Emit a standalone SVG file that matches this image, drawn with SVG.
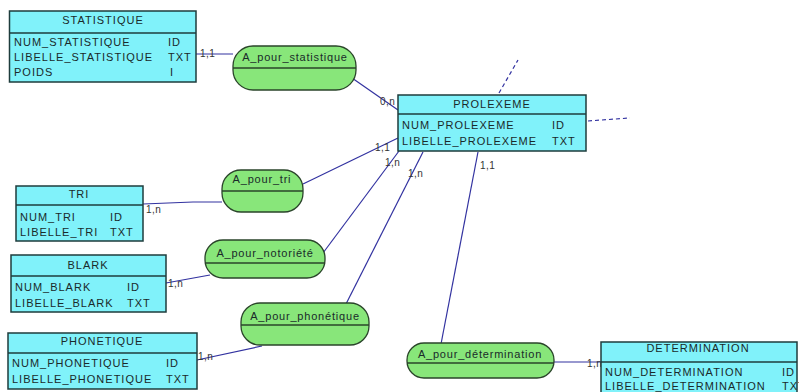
<svg xmlns="http://www.w3.org/2000/svg" width="799" height="392" viewBox="0 0 799 392">
<style>
.ent rect{fill:#80f2fa;stroke:#1e3c3c;stroke-width:1.5}
.ent line{stroke:#1e3c3c;stroke-width:1.5}
.asc rect{fill:#88e67a;stroke:#2a442a;stroke-width:1.3}
.asc line{stroke:#2a442a;stroke-width:1.3}
text{font-family:"Liberation Sans",Arial,sans-serif;font-size:11px;fill:#1a2a2a;letter-spacing:1px}
.t{text-anchor:middle}
.a{letter-spacing:0.8px}
.c{font-size:10px;letter-spacing:0.5px;fill:#333}
#connectors line,#connectors polyline{stroke:#3232a0;stroke-width:1.2;fill:none}
#connectors .d{stroke-dasharray:4,3}
</style>
<g id="connectors">
<line x1="196" y1="54" x2="233" y2="54"/>
<line x1="352" y1="78" x2="398" y2="110"/>
<polyline points="143,204 193,202 222,202"/>
<line x1="303" y1="184" x2="398" y2="138"/>
<line x1="166" y1="283" x2="210" y2="275"/>
<line x1="323" y1="253" x2="399" y2="151"/>
<line x1="197" y1="360" x2="262" y2="346"/>
<line x1="346" y1="304" x2="423" y2="152"/>
<line x1="441" y1="344" x2="478" y2="152"/>
<line x1="554" y1="362" x2="601" y2="362"/>
<line class="d" x1="499" y1="93" x2="518" y2="60"/>
<line class="d" x1="588" y1="121" x2="630" y2="118"/>
<text class="c" x="200" y="57">1,1</text>
<text class="c" x="380" y="105">0,n</text>
<text class="c" x="146" y="213">1,n</text>
<text class="c" x="375" y="151">1,1</text>
<text class="c" x="168" y="287">1,n</text>
<text class="c" x="385" y="166">1,n</text>
<text class="c" x="198" y="360">1,n</text>
<text class="c" x="408" y="177">1,n</text>
<text class="c" x="480" y="169">1,1</text>
<text class="c" x="587" y="367">1,n</text>
</g>
<g id="STATISTIQUE" class="ent">
<rect x="9.5" y="11" width="186.5" height="71"/>
<line x1="9.5" y1="33" x2="196" y2="33"/>
<text class="t" x="103" y="24">STATISTIQUE</text>
<text x="14" y="46">NUM_STATISTIQUE</text><text x="168" y="46">ID</text>
<text x="14" y="61">LIBELLE_STATISTIQUE</text><text x="168" y="61">TXT</text>
<text x="14" y="76">POIDS</text><text x="170" y="76">I</text>
</g>
<g id="A_pour_statistique" class="asc">
<rect x="233" y="46" width="123" height="44" rx="20"/>
<line x1="233" y1="68" x2="356" y2="68"/>
<text class="t a" x="295" y="61">A_pour_statistique</text>
</g>
<g id="PROLEXEME" class="ent">
<rect x="398" y="95" width="188" height="56"/>
<line x1="398" y1="114" x2="586" y2="114"/>
<text class="t" x="492" y="108">PROLEXEME</text>
<text x="402" y="129">NUM_PROLEXEME</text><text x="552" y="129">ID</text>
<text x="402" y="145">LIBELLE_PROLEXEME</text><text x="552" y="145">TXT</text>
</g>
<g id="TRI" class="ent">
<rect x="16" y="186" width="127" height="55"/>
<line x1="16" y1="205" x2="143" y2="205"/>
<text class="t" x="79" y="198">TRI</text>
<text x="20" y="221">NUM_TRI</text><text x="110" y="221">ID</text>
<text x="20" y="236">LIBELLE_TRI</text><text x="110" y="236">TXT</text>
</g>
<g id="A_pour_tri" class="asc">
<rect x="222" y="170" width="81" height="42" rx="19"/>
<line x1="222" y1="191" x2="303" y2="191"/>
<text class="t a" x="262" y="183">A_pour_tri</text>
</g>
<g id="BLARK" class="ent">
<rect x="11" y="255" width="155" height="57"/>
<line x1="11" y1="276" x2="166" y2="276"/>
<text class="t" x="88" y="269">BLARK</text>
<text x="15" y="291">NUM_BLARK</text><text x="127" y="291">ID</text>
<text x="15" y="307">LIBELLE_BLARK</text><text x="127" y="307">TXT</text>
</g>
<g id="A_pour_notoriete" class="asc">
<rect x="205" y="240" width="120" height="38" rx="18"/>
<line x1="205" y1="263" x2="325" y2="263"/>
<text class="t a" x="265" y="257">A_pour_notoriété</text>
</g>
<g id="PHONETIQUE" class="ent">
<rect x="8" y="333" width="189" height="56"/>
<line x1="8" y1="353" x2="197" y2="353"/>
<text class="t" x="102" y="345">PHONETIQUE</text>
<text x="12" y="367">NUM_PHONETIQUE</text><text x="166" y="367">ID</text>
<text x="12" y="383">LIBELLE_PHONETIQUE</text><text x="166" y="383">TXT</text>
</g>
<g id="A_pour_phonetique" class="asc">
<rect x="241" y="303" width="128" height="42" rx="19"/>
<line x1="241" y1="325" x2="369" y2="325"/>
<text class="t a" x="305" y="320">A_pour_phonétique</text>
</g>
<g id="A_pour_determination" class="asc">
<rect x="407" y="343" width="147" height="35" rx="17"/>
<line x1="407" y1="363" x2="554" y2="363"/>
<text class="t a" x="480" y="358">A_pour_détermination</text>
</g>
<g id="DETERMINATION" class="ent">
<rect x="601" y="342" width="196" height="52"/>
<line x1="601" y1="362" x2="797" y2="362"/>
<text class="t" x="698" y="352">DETERMINATION</text>
<text x="605" y="376">NUM_DETERMINATION</text><text x="782" y="376">ID</text>
<text x="605" y="390">LIBELLE_DETERMINATION</text><text x="782" y="390">TXT</text>
</g>
</svg>
